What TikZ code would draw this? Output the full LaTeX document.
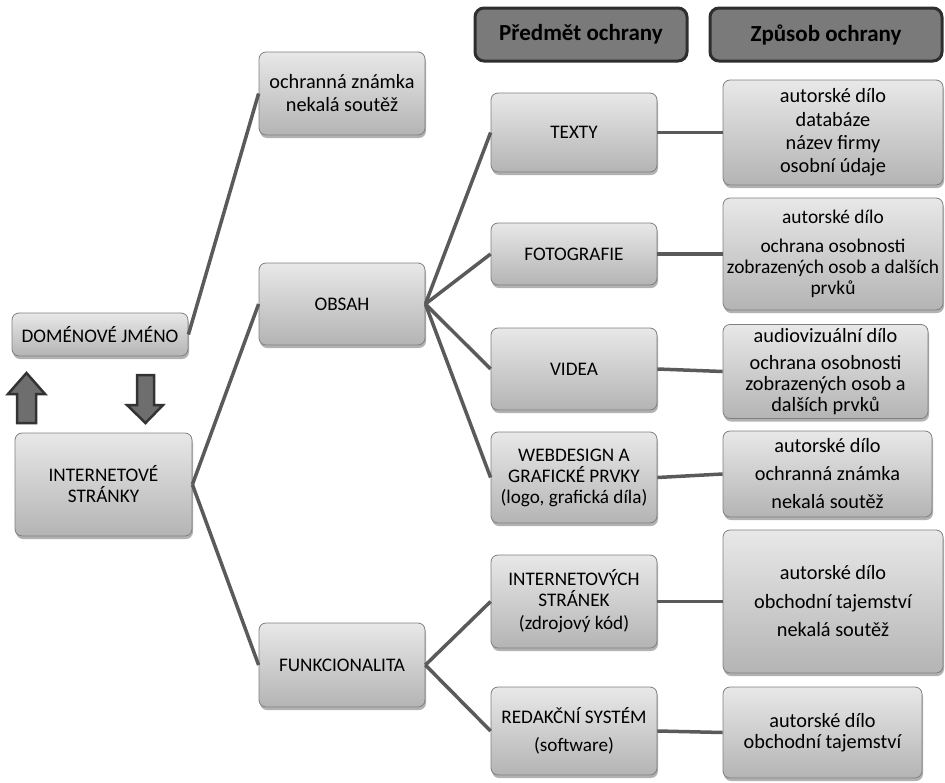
\documentclass[tikz,border=0pt]{standalone}
\usepackage{fontspec}
\setmainfont{Carlito}
\usetikzlibrary{shadows}
\definecolor{lnc}{HTML}{5A5A5A}
\definecolor{bxd}{HTML}{7F7F7F}
\definecolor{bxt}{HTML}{E8E8E8}
\definecolor{bxb}{HTML}{B4B4B4}
\definecolor{hdf}{HTML}{7A7A7A}
\definecolor{hdd}{HTML}{2E2E2E}
\definecolor{arf}{HTML}{6E6E6E}
\definecolor{ard}{HTML}{333333}
\begin{document}
\begin{tikzpicture}[x=1pt,y=-1pt,
  bx/.style={draw=bxd, line width=0.8pt, rounded corners=7pt, top color=bxt, bottom color=bxb,
    align=center, inner sep=2pt, font=\fontsize{19.2}{21}\selectfont,
    drop shadow={shadow xshift=1pt, shadow yshift=-3pt, opacity=0.3, fill=black}},
  lc/.style={font=\fontsize{20.3}{21}\selectfont},
  hd/.style={draw=hdd, line width=3pt, fill=hdf, rounded corners=9pt,
    font=\bfseries\fontsize{23}{26}\selectfont},
  ln/.style={draw=lnc, line width=3.5pt},
  blockarrow/.style={draw=ard, line width=2.5pt, fill=arf, line join=miter}]
\useasboundingbox (0,0) rectangle (945,782);

% headers
\node[hd, minimum width=212pt, minimum height=53pt] (h1) at (581,34.5) {Předmět ochrany};
\node[hd, minimum width=232pt, minimum height=53pt] (h2) at (826,34.5) {Způsob ochrany};

% left column
\node[bx, minimum width=176pt, minimum height=43pt] (dom) at (100,334.5) {DOMÉNOVÉ JMÉNO};
\node[bx, minimum width=177pt, minimum height=103pt] (inet) at (103.5,484.5) {INTERNETOVÉ\\STRÁNKY};

% second column
\node[bx, lc, minimum width=166pt, minimum height=83pt] (ozn) at (342,93.5) {ochranná známka\\[2pt]nekalá soutěž};
\node[bx, minimum width=166pt, minimum height=82pt] (obsah) at (342,304) {OBSAH};
\node[bx, minimum width=166pt, minimum height=84pt] (funk) at (342,665) {FUNKCIONALITA};

% third column
\node[bx, minimum width=166pt, minimum height=79pt] (texty) at (574,132.5) {TEXTY};
\node[bx, minimum width=166pt, minimum height=62pt] (foto) at (574,254) {FOTOGRAFIE};
\node[bx, minimum width=166pt, minimum height=82pt] (videa) at (574,369) {VIDEA};
\node[bx, minimum width=166pt, minimum height=91pt] (web) at (574,477.5) {WEBDESIGN A\\GRAFICKÉ PRVKY\\(logo, grafická díla)};
\node[bx, minimum width=166pt, minimum height=93pt] (ist) at (574,601.5) {INTERNETOVÝCH\\STRÁNEK\\[2pt](zdrojový kód)};
\node[bx, minimum width=166pt, minimum height=88pt] (red) at (574,731) {REDAKČNÍ SYSTÉM\\[7pt](software)};

% fourth column
\node[bx, lc, minimum width=220pt, minimum height=105pt] (textyR) at (833,132.5) {autorské dílo\\[2.3pt]databáze\\[2.3pt]název firmy\\[2.3pt]osobní údaje};
\node[bx, font=\fontsize{19.4}{21}\selectfont, inner sep=1pt, minimum width=220pt, minimum height=112pt] (fotoR) at (833,254) {autorské dílo\\[8pt]ochrana osobnosti\\zobrazených osob a dalších\\prvků};
\node[bx, lc, minimum width=205pt, minimum height=94pt] (videaR) at (825.5,371.5) {audiovizuální dílo\\[6pt]ochrana osobnosti\\zobrazených osob a\\dalších prvků};
\node[bx, lc, minimum width=209pt, minimum height=86pt] (webR) at (827.5,474) {autorské dílo\\[7pt]ochranná známka\\[7pt]nekalá soutěž};
\node[bx, lc, minimum width=220pt, minimum height=143pt] (istR) at (833,601.5) {autorské dílo\\[7.5pt]obchodní tajemství\\[7.5pt]nekalá soutěž};
\node[bx, lc, minimum width=199pt, minimum height=91pt] (redR) at (822.5,732.5) {autorské dílo\\obchodní tajemství};

% block arrows
\draw[blockarrow] (26.5,373) -- (45,394) -- (36,394) -- (36,423) -- (17,423) -- (17,394) -- (8,394) -- cycle;
\draw[blockarrow] (137,375) -- (154,375) -- (154,405) -- (163,405) -- (145.5,423) -- (127,405) -- (137,405) -- cycle;

% connectors
\draw[ln] (dom.east) -- (ozn.west);
\draw[ln] (inet.east) -- (obsah.west);
\draw[ln] (inet.east) -- (funk.west);
\draw[ln] (obsah.east) -- (texty.west);
\draw[ln] (obsah.east) -- (foto.west);
\draw[ln] (obsah.east) -- (videa.west);
\draw[ln] (obsah.east) -- (web.west);
\draw[ln] (funk.east) -- (ist.west);
\draw[ln] (funk.east) -- (red.west);
\draw[ln] (texty.east) -- (textyR.west);
\draw[ln] (foto.east) -- (fotoR.west);
\draw[ln] (videa.east) -- (videaR.west);
\draw[ln] (web.east) -- (webR.west);
\draw[ln] (ist.east) -- (istR.west);
\draw[ln] (red.east) -- (redR.west);
\end{tikzpicture}
\end{document}
